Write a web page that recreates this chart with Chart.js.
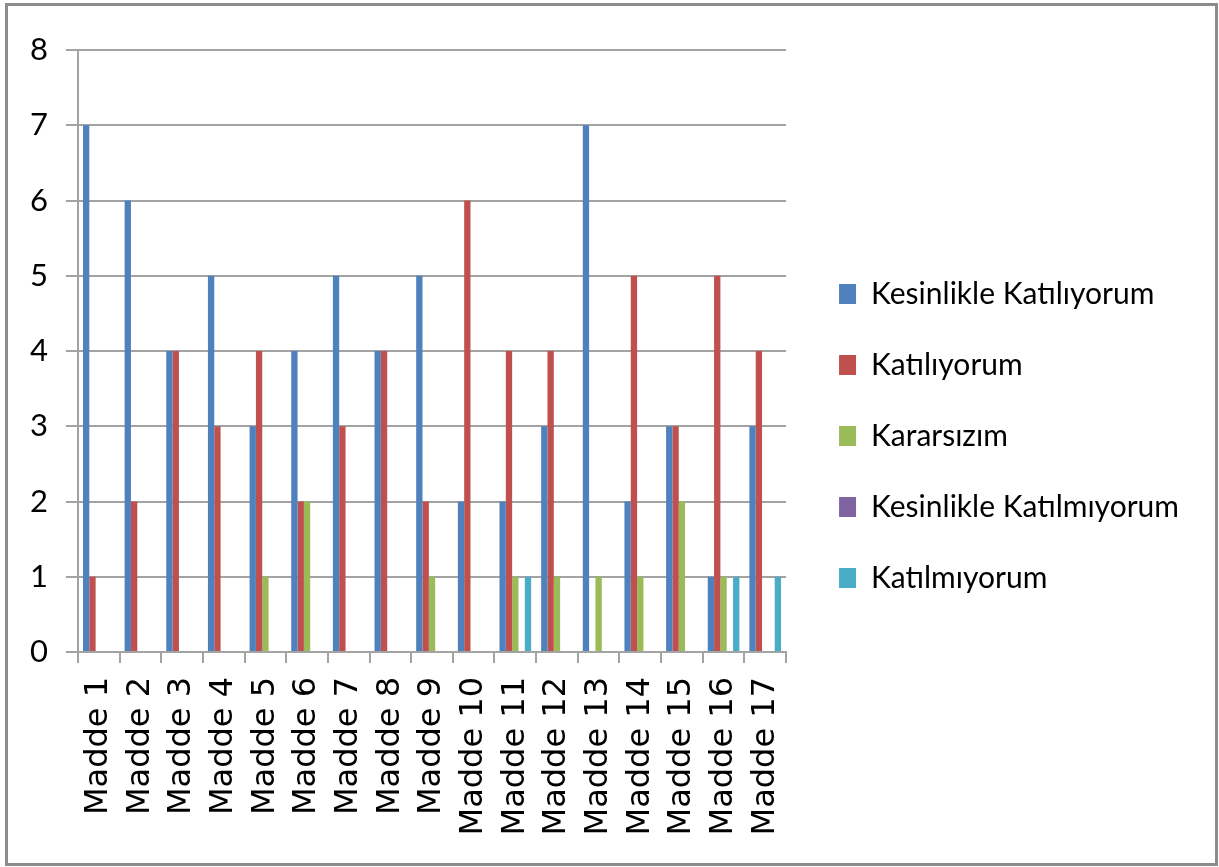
<!DOCTYPE html>
<html>
<head>
<meta charset="utf-8">
<script src="https://cdn.jsdelivr.net/npm/chart.js@4.4.1/dist/chart.umd.min.js"></script>
<style>
    html, body { margin: 0; padding: 0; background: #fff; }
    .chart-wrap { position: absolute; left: 0; top: 0; width: 1219px; height: 867px; }
    .frame { position: absolute; left: 5px; top: 3px; width: 1207px; height: 857px; border: 3px solid #8c8c8c; pointer-events: none; }
</style>
</head>
<body>
<div class="chart-wrap"><canvas id="myChart" width="1219" height="867"></canvas></div>
<div class="frame"></div>
<script>
// DATA
const maddeLabels= ["Madde 1","Madde 2","Madde 3","Madde 4","Madde 5","Madde 6","Madde 7","Madde 8","Madde 9","Madde 10","Madde 11","Madde 12","Madde 13","Madde 14","Madde 15","Madde 16","Madde 17"];
const kesinlikleKatiliyorum= [7,6,4,5,3,4,5,4,5,2,2,3,7,2,3,1,3];
const katiliyorum=           [1,2,4,3,4,2,3,4,2,6,4,4,0,5,3,5,4];
const kararsizim=            [0,0,0,0,1,2,0,0,1,0,1,1,1,1,2,1,0];
const kesinlikleKatilmiyorum=[0,0,0,0,0,0,0,0,0,0,0,0,0,0,0,0,0];
const katilmiyorum=          [0,0,0,0,0,0,0,0,0,0,1,0,0,0,0,1,1];
const yTicks= [0,1,2,3,4,5,6,7,8];

// styling
const gridColor= "#a3a3a3";
const seriesColors= ["#4F81BD","#C0504D","#9BBB59","#8064A2","#4BACC6"];

const makeDataset= function(label, data, idx){
    return {
        label: label,
        data: data,
        backgroundColor: seriesColors[idx],
        borderWidth: 0,
        categoryPercentage: 0.76,
        barPercentage: 1.0,
    };
};

// small nudge: legend sits a bit further from the plot (and a bit higher) than its padding allows
const legendGap= {
    id: 'legendGap',
    afterLayout(chart){
        const lg= chart.legend;
        if(!lg) return;
        lg.left+= 12;
        lg.right+= 12;
        lg.top-= 15;
        lg.bottom-= 15;
    }
};

const canvasElement= document.getElementById('myChart');

new Chart(canvasElement, {
    type: 'bar',
    data: {
        labels: maddeLabels,
        datasets: [
            makeDataset("Kesinlikle Katılıyorum", kesinlikleKatiliyorum, 0),
            makeDataset("Katılıyorum", katiliyorum, 1),
            makeDataset("Kararsızım", kararsizim, 2),
            makeDataset("Kesinlikle Katılmıyorum", kesinlikleKatilmiyorum, 3),
            makeDataset("Katılmıyorum", katilmiyorum, 4),
        ],
    },
    plugins: [legendGap],
    options: {
        responsive: false,
        animation: false,
        layout: {
            padding: { left: 12, top: 50, right: 42, bottom: 15 }
        },
        scales: {
            y: {
                min: 0,
                max: 8,
                afterBuildTicks: (scale) => { scale.ticks= yTicks.map(v => ({value: v})); },
                grid: { color: gridColor, lineWidth: 2, tickLength: 12 },
                border: { color: gridColor, width: 2 },
                ticks: {
                    color: "#000",
                    padding: 18,
                    font: { family: "Lato", size: 31 },
                },
            },
            x: {
                afterFit: (scale) => { scale.height= 200; },   // fixed band for the rotated labels
                grid: { offset: true, drawOnChartArea: false, color: gridColor, lineWidth: 2, tickLength: 11 },
                border: { color: gridColor, width: 2 },
                ticks: {
                    color: "#000",
                    padding: 14,
                    minRotation: 90,
                    maxRotation: 90,
                    autoSkip: false,
                    font: { family: "DejaVu Sans", size: 32 },
                },
            },
        },
        plugins: {
            legend: {
                position: 'right',
                maxWidth: 420,
                labels: {
                    color: "#000",
                    boxWidth: 17,
                    boxHeight: 20,
                    padding: 41,
                    font: { family: "Lato", size: 30 },
                },
            },
            tooltip: { enabled: false },
        },
    },
});
</script>
</body>
</html>
